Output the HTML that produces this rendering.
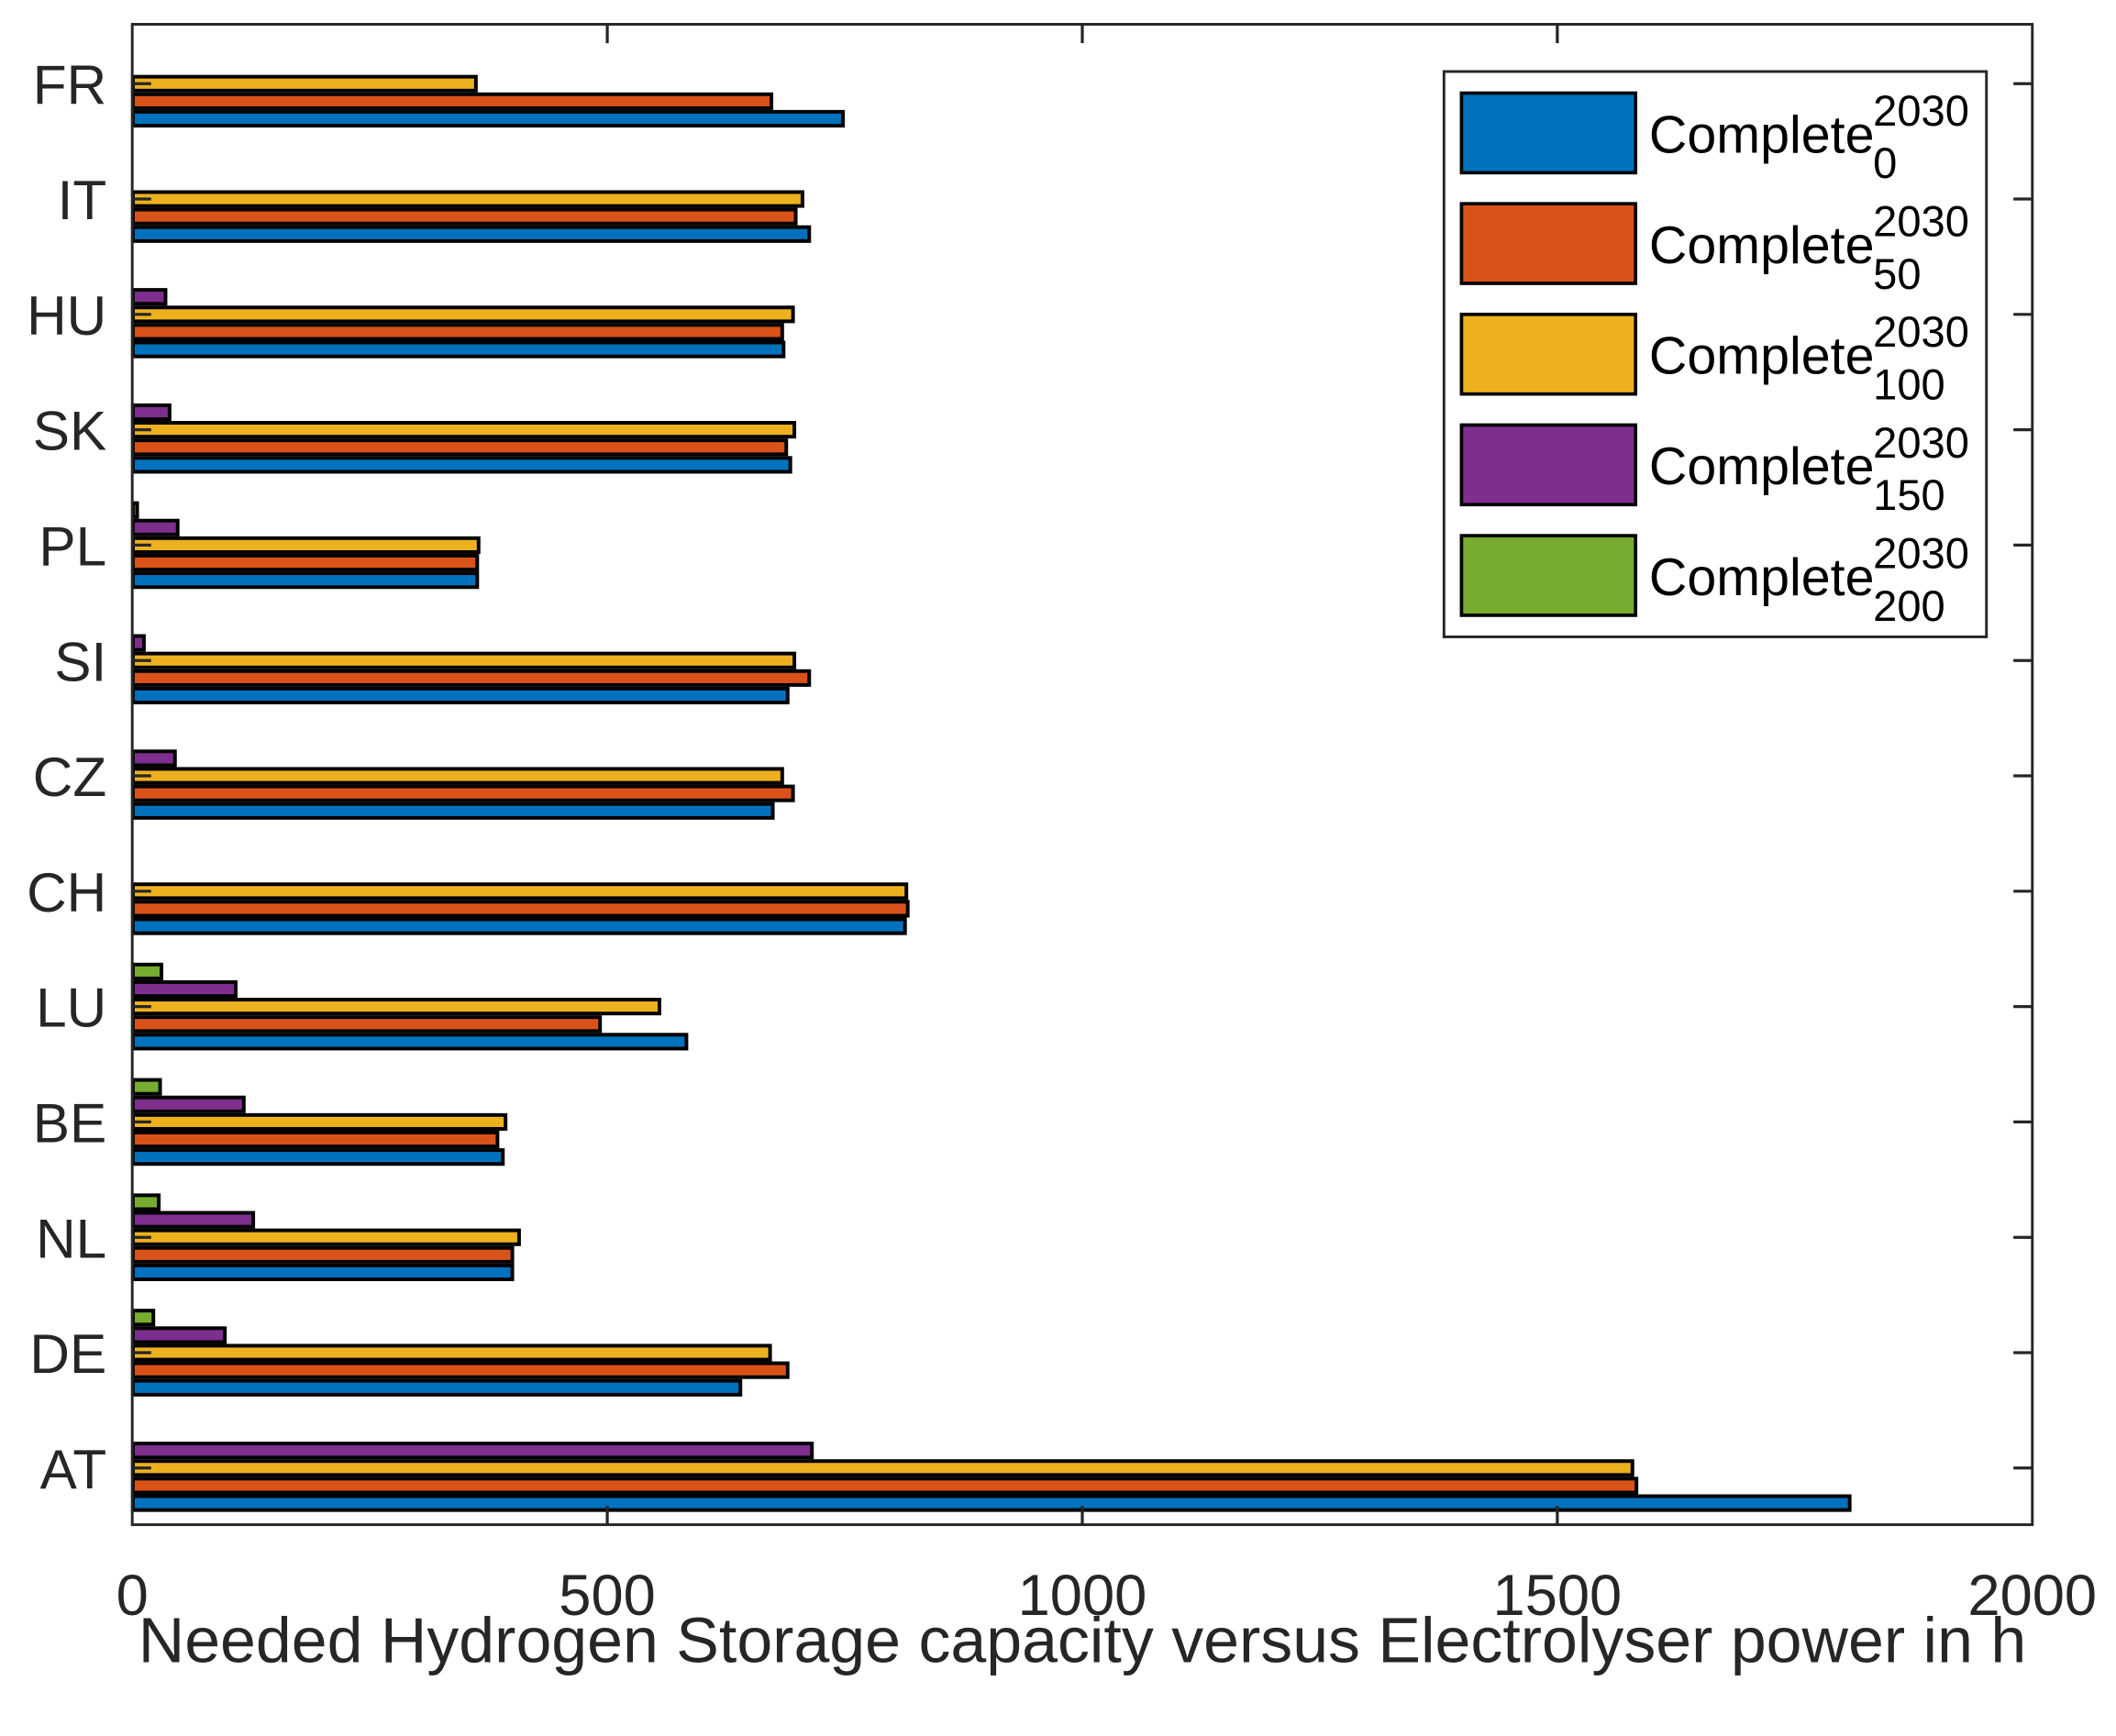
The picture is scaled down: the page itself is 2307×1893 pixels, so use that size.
<!DOCTYPE html>
<html><head><meta charset="utf-8"><style>
html,body{margin:0;padding:0;background:#fff;}
svg{display:block;}
text{font-family:"Liberation Sans",Arial,sans-serif;}
</style></head><body>
<svg width="2307" height="1893" viewBox="0 0 1568 1286.6" preserveAspectRatio="none" xmlns="http://www.w3.org/2000/svg">
<rect width="1568" height="1287" fill="#fff"/>
<g id="bars" stroke="#000" stroke-width="2.7"></g>
<g stroke="#262626" stroke-width="2" fill="none">
<rect x="98" y="18" width="1408" height="1112"/>
</g>
<g id="ticks" stroke="#262626" stroke-width="2.2"></g>
<g id="labels" font-size="41" fill="#262626"></g>
<text x="802" y="1232" font-size="47.5" fill="#262626" text-anchor="middle">Needed Hydrogen Storage capacity versus Electrolyser power in h</text>
<rect x="1070" y="53" width="402" height="419" fill="#fff" stroke="#262626" stroke-width="2"/>
<g id="legend"></g>
<script>
var C=["#0072BD","#D95319","#EDB120","#7E2F8E","#77AC30"];
var cats=["FR","IT","HU","SK","PL","SI","CZ","CH","LU","BE","NL","DE","AT"];
var v={FR:[626,573,354,0,0],IT:[601,591,596,0,0],HU:[582,581,589,124,0],SK:[587,584,590,127,0],
PL:[355,355,356,133,103],SI:[585,601,590,108,0],CZ:[574,589,581,131,0],CH:[672,674,673,0,0],
LU:[510,446,490,176,121],BE:[374,370,376,182,120],NL:[381,381,386,189,119],DE:[550,585,572,168,115],
AT:[1372,1214,1211,603,0]};
var off=[26,13,0,-13,-26];
var ns="http://www.w3.org/2000/svg";
function el(t,a,p,txt){var e=document.createElementNS(ns,t);for(var k in a)e.setAttribute(k,a[k]);if(txt)e.textContent=txt;document.getElementById(p).appendChild(e);return e;}
cats.forEach(function(c,i){
 var y=62+i*85.5;
 for(var j=0;j<5;j++){var x=v[c][j];if(x>99){el("rect",{x:98.5,y:y+off[j]-5.15,width:x-98.5-1.35,height:10.3,fill:C[j]},"bars");}}
 el("line",{x1:98,y1:y,x2:112,y2:y},"ticks");
 el("line",{x1:1492,y1:y,x2:1506,y2:y},"ticks");
 el("text",{x:79,y:y+15,"text-anchor":"end"},"labels",c);
});
[0,500,1000,1500,2000].forEach(function(t,i){
 var x=98+i*352;
 if(i>0&&i<4){el("line",{x1:x,y1:18,x2:x,y2:32},"ticks");el("line",{x1:x,y1:1130,x2:x,y2:1116},"ticks");}
 el("text",{x:x,y:1197,"text-anchor":"middle","font-size":43},"labels",""+t);
});
var subs=["0","50","100","150","200"];
for(var j=0;j<5;j++){var y=69+j*82;
 el("rect",{x:1083,y:y,width:129,height:59,fill:C[j],stroke:"#000","stroke-width":2.5},"legend");
 el("text",{x:1222,y:y+44,"font-size":39,fill:"#000"},"legend","Complete");
 el("text",{x:1388,y:y+24,"font-size":32,fill:"#000"},"legend","2030");
 el("text",{x:1388,y:y+63,"font-size":32,fill:"#000"},"legend",subs[j]);
}
</script>
</svg>
</body></html>
